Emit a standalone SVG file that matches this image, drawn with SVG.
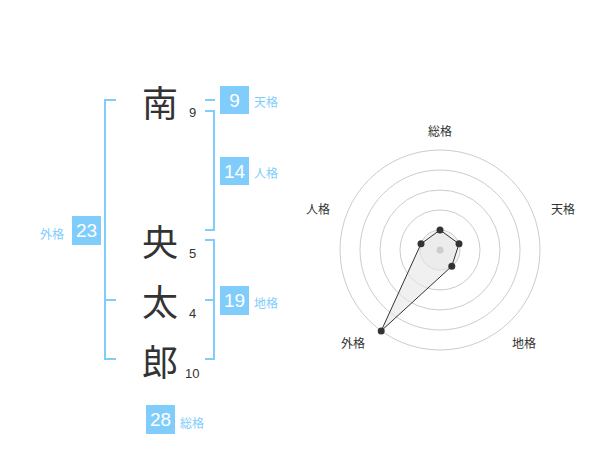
<svg xmlns="http://www.w3.org/2000/svg" width="600" height="470" viewBox="0 0 600 470">
<style>
.ch{font-family:"Noto Sans CJK JP","Noto Sans CJK SC",sans-serif;font-size:36px;fill:#333;text-anchor:middle;dominant-baseline:central}
.num{font-family:"Liberation Sans",Arial,sans-serif;font-size:13px;fill:#333}
.box{fill:#80cdfc}
.bn{font-family:"Liberation Sans",Arial,sans-serif;font-size:19px;fill:#fff;text-anchor:middle;dominant-baseline:central}
.lb{font-family:"Noto Sans CJK JP","Noto Sans CJK SC",sans-serif;font-size:12px;fill:#80cdfc;dominant-baseline:central}
.br{fill:none;stroke:#80cdfc;stroke-width:2}
.ring{fill:none;stroke:#ccc;stroke-width:1}
.rl{font-family:"Noto Sans CJK JP","Noto Sans CJK SC",sans-serif;font-size:12px;fill:#333;text-anchor:middle;dominant-baseline:central}
.dot{fill:#333}
</style>
<rect width="600" height="470" fill="#fff"/>
<g id="connectors">
<path class="br" d="M205,100 H215"/>
<path class="br" d="M205,111 H214 V230 H205"/>
<path class="br" d="M205,240 H214 V359 H205 M205,300 H214"/>
<path class="br" d="M116,100 H105 V359 H116 M105,300 H116"/>
</g>
<g id="char-nan"><text class="ch" x="160" y="101">南</text><text class="num" x="189" y="117">9</text></g>
<g id="char-ou"><text class="ch" x="160" y="240">央</text><text class="num" x="189" y="258">5</text></g>
<g id="char-ta"><text class="ch" x="160" y="300">太</text><text class="num" x="189" y="318">4</text></g>
<g id="char-ro"><text class="ch" x="160" y="360">郎</text><text class="num" x="185" y="378">10</text></g>
<g id="tenkaku"><rect class="box" x="220" y="86" width="29" height="28"/><text class="bn" x="234.5" y="100">9</text><text class="lb" x="254" y="101">天格</text></g>
<g id="jinkaku"><rect class="box" x="220" y="157" width="29" height="28"/><text class="bn" x="234.5" y="171">14</text><text class="lb" x="254" y="172">人格</text></g>
<g id="chikaku"><rect class="box" x="220" y="286" width="29" height="29"/><text class="bn" x="234.5" y="300.5">19</text><text class="lb" x="254" y="302">地格</text></g>
<g id="gaikaku"><rect class="box" x="72" y="216" width="29" height="29"/><text class="bn" x="86.5" y="230.5">23</text><text class="lb" x="40" y="233">外格</text></g>
<g id="soukaku"><rect class="box" x="146" y="405" width="29" height="29"/><text class="bn" x="160.5" y="419.5">28</text><text class="lb" x="180" y="422">総格</text></g>
<g id="radar">
<circle cx="440" cy="250" r="20" fill="#f4f4f4" stroke="#ccc"/>
<circle class="ring" cx="440" cy="250" r="40"/>
<circle class="ring" cx="440" cy="250" r="60"/>
<circle class="ring" cx="440" cy="250" r="80"/>
<circle class="ring" cx="440" cy="250" r="100"/>
<polygon points="440,230 459,243.8 451.8,266.2 381.2,330.9 421,243.8" fill="#e6e6e6" fill-opacity="0.6" stroke="#333" stroke-width="1"/>
<circle cx="440" cy="250" r="3.5" fill="#ccc"/>
<circle class="dot" cx="440" cy="230" r="3.5"/>
<circle class="dot" cx="459" cy="243.8" r="3.5"/>
<circle class="dot" cx="451.8" cy="266.2" r="3.5"/>
<circle class="dot" cx="381.2" cy="330.9" r="3.5"/>
<circle class="dot" cx="421" cy="243.8" r="3.5"/>
<text class="rl" x="440" y="130">総格</text>
<text class="rl" x="563" y="208">天格</text>
<text class="rl" x="524" y="342">地格</text>
<text class="rl" x="353" y="342">外格</text>
<text class="rl" x="318" y="208">人格</text>
</g>
</svg>
